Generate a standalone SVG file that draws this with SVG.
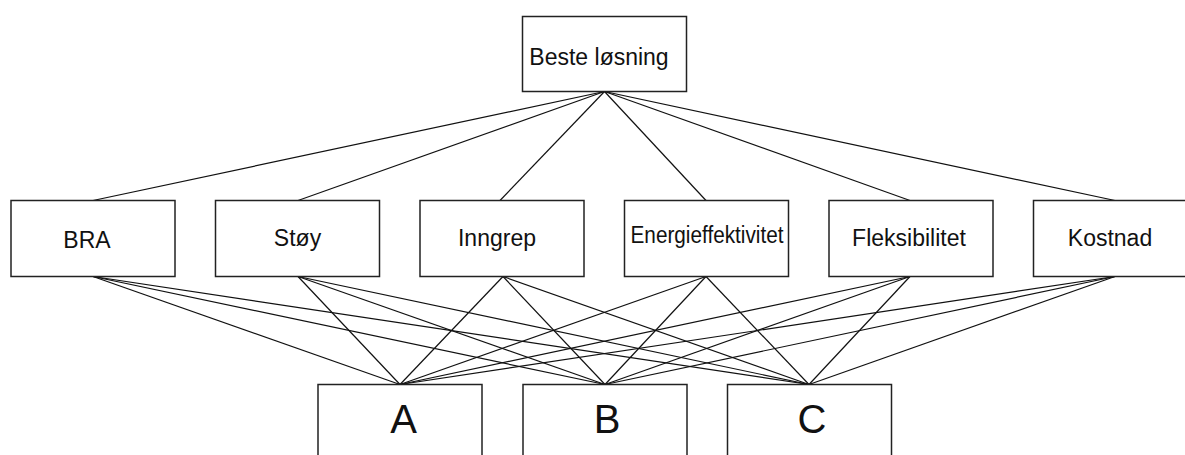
<svg xmlns="http://www.w3.org/2000/svg" width="1185" height="455" viewBox="0 0 1185 455">
<style>
.box{fill:#fff;stroke:#222;stroke-width:1.5}
.lbl{font-family:"Liberation Sans",Arial,sans-serif;font-size:23px;fill:#111;text-anchor:middle}
.big{font-family:"Liberation Sans",Arial,sans-serif;font-size:40px;fill:#111;text-anchor:middle}
.con line{stroke:#111;stroke-width:1.2}
</style>
<rect width="1185" height="455" fill="#fff"/>
<g id="connectors" class="con">
<line x1="604.5" y1="91.5" x2="93" y2="200.5"/>
<line x1="604.5" y1="91.5" x2="298" y2="200.5"/>
<line x1="604.5" y1="91.5" x2="500" y2="200.5"/>
<line x1="604.5" y1="91.5" x2="706" y2="200.5"/>
<line x1="604.5" y1="91.5" x2="910" y2="200.5"/>
<line x1="604.5" y1="91.5" x2="1115" y2="200.5"/>
<line x1="93" y1="276.5" x2="400" y2="384.5"/>
<line x1="93" y1="276.5" x2="605" y2="384.5"/>
<line x1="93" y1="276.5" x2="809" y2="384.5"/>
<line x1="298" y1="276.5" x2="400" y2="384.5"/>
<line x1="298" y1="276.5" x2="605" y2="384.5"/>
<line x1="298" y1="276.5" x2="809" y2="384.5"/>
<line x1="503" y1="276.5" x2="400" y2="384.5"/>
<line x1="503" y1="276.5" x2="605" y2="384.5"/>
<line x1="503" y1="276.5" x2="809" y2="384.5"/>
<line x1="706" y1="276.5" x2="400" y2="384.5"/>
<line x1="706" y1="276.5" x2="605" y2="384.5"/>
<line x1="706" y1="276.5" x2="809" y2="384.5"/>
<line x1="910" y1="276.5" x2="400" y2="384.5"/>
<line x1="910" y1="276.5" x2="605" y2="384.5"/>
<line x1="910" y1="276.5" x2="809" y2="384.5"/>
<line x1="1115" y1="276.5" x2="400" y2="384.5"/>
<line x1="1115" y1="276.5" x2="605" y2="384.5"/>
<line x1="1115" y1="276.5" x2="809" y2="384.5"/>
</g>
<g id="beste"><rect class="box" x="522.5" y="16.5" width="164" height="75"/><text class="lbl" x="599" y="65">Beste løsning</text></g>
<g id="bra"><rect class="box" x="11" y="200.5" width="164" height="76"/><text class="lbl" x="87" y="248">BRA</text></g>
<g id="stoy"><rect class="box" x="215.5" y="200.5" width="164" height="76"/><text class="lbl" x="297.5" y="246">Støy</text></g>
<g id="inngrep"><rect class="box" x="420" y="200.5" width="164" height="76"/><text class="lbl" x="497" y="246">Inngrep</text></g>
<g id="energi"><rect class="box" x="624.5" y="200.5" width="164" height="76"/><text class="lbl" x="707" y="243" textLength="153" lengthAdjust="spacingAndGlyphs">Energieffektivitet</text></g>
<g id="fleks"><rect class="box" x="829" y="200.5" width="164" height="76"/><text class="lbl" x="909" y="246">Fleksibilitet</text></g>
<g id="kostnad"><rect class="box" x="1033.5" y="200.5" width="164" height="76"/><text class="lbl" x="1110" y="246">Kostnad</text></g>
<g id="a"><rect class="box" x="318" y="384.5" width="164" height="90"/><text class="big" x="403.5" y="433">A</text></g>
<g id="b"><rect class="box" x="523" y="384.5" width="164" height="90"/><text class="big" x="607" y="433">B</text></g>
<g id="c"><rect class="box" x="727.5" y="384.5" width="164" height="90"/><text class="big" x="812" y="433">C</text></g>
</svg>
